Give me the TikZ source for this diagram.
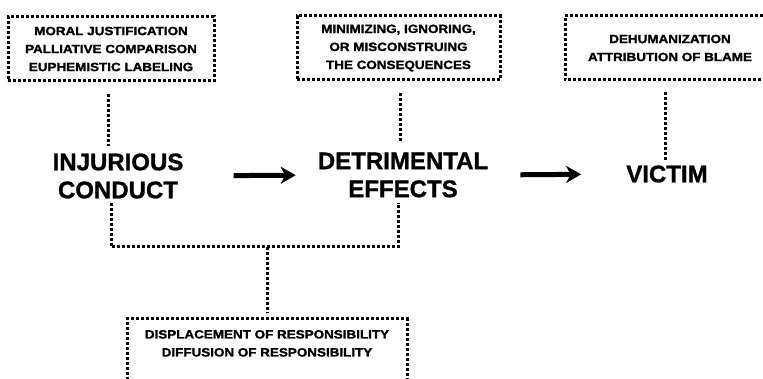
\documentclass[tikz,border=0pt]{standalone}
\usepackage{fontspec}
\setmainfont{Liberation Sans}
\newfontfamily\boxfont[FakeStretch=1.12,FakeBold=1.6]{Liberation Sans}
\newfontfamily\heavyfont[FakeBold=1.2]{Liberation Sans}
\usetikzlibrary{arrows.meta}
\begin{document}
\begin{tikzpicture}[x=1pt,y=-1pt,
  dotline/.style={line width=3pt, dash pattern=on 3pt off 2pt},
  boxtext/.style={inner sep=0pt, align=center,
    font=\boxfont\bfseries\fontsize{12}{18}\selectfont},
  dbox/.style={boxtext, draw, dotline},
  mainlbl/.style={align=center, inner sep=0pt,
    font=\heavyfont\bfseries\fontsize{24}{28}\selectfont},
  arr/.style={line width=5pt, -{Stealth[length=15pt,width=17pt,inset=4.5pt]}}]
\useasboundingbox (0,0) rectangle (763,379);
% boxes
\node[dbox, minimum width=206pt, minimum height=64pt] (b1) at (111,49)
  {MORAL JUSTIFICATION\\PALLIATIVE COMPARISON\\EUPHEMISTIC LABELING};
\node[dbox, minimum width=203pt, minimum height=64pt] (b2) at (398.5,48)
  {MINIMIZING, IGNORING,\\OR MISCONSTRUING\\THE CONSEQUENCES};
\node[boxtext, minimum height=64pt] (b3) at (670,48)
  {DEHUMANIZATION\\ATTRIBUTION OF BLAME};
\draw[dotline] (763,16) -| (565,80) -- (763,80);
\node[dbox, minimum width=280pt, minimum height=72pt] (b4) at (267,355)
  {DISPLACEMENT OF RESPONSIBILITY\\DIFFUSION OF RESPONSIBILITY\\\strut};
% main labels
\node[mainlbl] (ic) at (118,176) {INJURIOUS\\CONDUCT};
\node[mainlbl] (de) at (403,175) {DETRIMENTAL\\EFFECTS};
\node[mainlbl] (vi) at (667,174) {VICTIM};
% arrows
\draw[arr, shorten <=50pt, shorten >=22pt] (ic.east) -- (de.west);
\draw[arr, shorten <=32pt, shorten >=45pt] (de.east) -- (vi.west);
% vertical dotted connectors
\draw[dotline, shorten <=12pt, shorten >=7pt] ([xshift=-3pt]b1.south) -- ([xshift=-3pt]b1.south |- ic.north);
\draw[dotline, shorten <=12pt, shorten >=9pt] ([xshift=1.5pt]b2.south) -- ([xshift=1.5pt]b2.south |- de.north);
\draw[dotline, shorten <=12pt, shorten >=5pt] ([xshift=-5pt]b3.south) -- ([xshift=-5pt]b3.south |- vi.north);
% bracket
\coordinate (j) at (267,247);
\draw[dotline] ([xshift=-7pt,yshift=-4pt]ic.south) |- (j) -| ([xshift=-5pt,yshift=-5pt]de.south);
\draw[dotline, shorten >=4pt] (j) -- (b4.north);
\end{tikzpicture}
\end{document}
